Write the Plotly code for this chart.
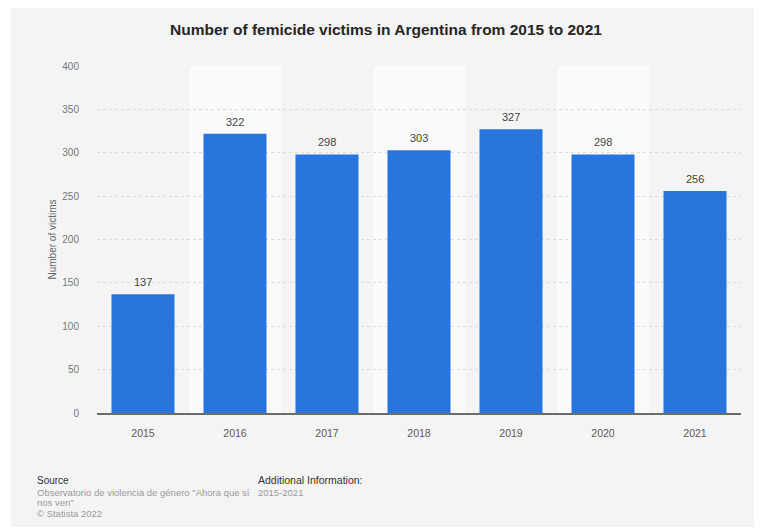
import plotly.graph_objects as go

years = ["2015", "2016", "2017", "2018", "2019", "2020", "2021"]
victims = [137, 322, 298, 303, 327, 298, 256]
y_ticks = [0, 50, 100, 150, 200, 250, 300, 350, 400]
title_text = "Number of femicide victims in Argentina from 2015 to 2021"
y_title = "Number of victims"
source_lines = ["Observatorio de violencia de género \"Ahora que sí", "nos ven\"", "© Statista 2022"]
add_info = "2015-2021"

# page body has an 8px margin; figure coordinates = screen - 8
OFF = 8
W, H = 754, 523
L, R, T, B = 89, 21, 58, 118
pw, ph = W - L - R, H - T - B

def px2x(px):
    return (px - OFF - L) / pw

def px2y(py):
    return (H - B - (py - OFF)) / ph

FONT = "Liberation Sans, Arial, Helvetica, sans-serif"

fig = go.Figure()
fig.add_trace(go.Bar(
    x=years, y=victims,
    marker=dict(color="#2876dd", line=dict(width=0)),
    hoverinfo="x+y",
))

shapes = [dict(type="rect", xref="paper", yref="paper", layer="below",
               x0=px2x(11), x1=px2x(770), y0=px2y(527), y1=px2y(0),
               fillcolor="#f4f4f4", line=dict(width=0))]
for i, yr in enumerate(years):
    if i % 2 == 1:
        shapes.append(dict(type="rect", xref="x", yref="paper", layer="below",
                           x0=i - 0.5, x1=i + 0.5, y0=0, y1=1,
                           fillcolor="#fafafa", line=dict(width=0)))

annotations = []
for i, v in enumerate(victims):
    # category axis: index i is the position of years[i]
    annotations.append(dict(x=i, y=v, text=str(v), xref="x", yref="y",
                            showarrow=False, yanchor="bottom", yshift=4,
                            font=dict(size=11, color="#444444", family=FONT)))

annotations += [
    dict(text="Source", xref="paper", yref="paper", x=px2x(35), y=px2y(480),
         xanchor="left", yanchor="middle", showarrow=False,
         font=dict(size=10, color="#333333", family=FONT)),
    dict(text="Additional Information:", xref="paper", yref="paper", x=px2x(256), y=px2y(480),
         xanchor="left", yanchor="middle", showarrow=False,
         font=dict(size=10.5, color="#333333", family=FONT)),
    dict(text=add_info, xref="paper", yref="paper", x=px2x(256), y=px2y(492),
         xanchor="left", yanchor="middle", showarrow=False,
         font=dict(size=9.5, color="#9a9a9a", family=FONT)),
]
for line, py in zip(source_lines, [492, 502.5, 513]):
    annotations.append(dict(text=line, xref="paper", yref="paper", x=px2x(35), y=px2y(py),
                            xanchor="left", yanchor="middle", showarrow=False,
                            font=dict(size=9.5, color="#9a9a9a", family=FONT)))

fig.update_layout(
    width=W, height=H,
    margin=dict(l=L, r=R, t=T, b=B, pad=0),
    paper_bgcolor="white",
    plot_bgcolor="rgba(0,0,0,0)",
    font=dict(family=FONT),
    title=dict(text="<b>" + title_text + "</b>", xref="container", yref="container",
               x=(386 - OFF) / W, y=1 - (30 - OFF) / H, xanchor="center", yanchor="middle",
               font=dict(size=15.5, color="#262626", family=FONT)),
    bargap=0.315,
    showlegend=False,
    shapes=shapes,
    annotations=annotations,
    xaxis=dict(
        type="category", range=[-0.5, len(years) - 0.5],
        showline=True, linecolor="#6b6b6b", linewidth=1.5,
        showgrid=False, ticks="", ticklabelstandoff=10,
        tickfont=dict(size=10.5, color="#5a5a5a", family=FONT),
    ),
    yaxis=dict(
        range=[0, 400], tickvals=y_ticks,
        showgrid=True, gridcolor="#dedede", griddash="dot", gridwidth=1,
        zeroline=False, showline=False, ticks="", ticklabelstandoff=17,
        tickfont=dict(size=10, color="#777777", family=FONT),
        title=dict(text=y_title, standoff=3, font=dict(size=10, color="#666666", family=FONT)),
    ),
)

fig.write_html("out.html")
